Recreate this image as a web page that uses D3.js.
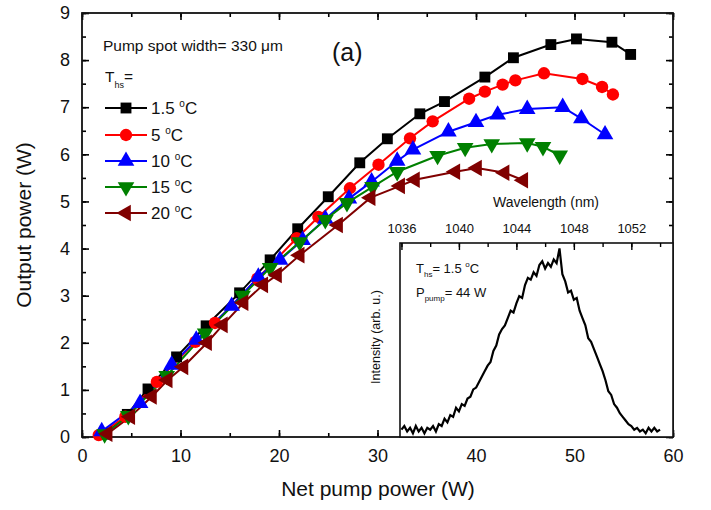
<!doctype html>
<html>
<head>
<meta charset="utf-8">
<title>Output power vs net pump power</title>
<style>
  body { margin: 0; background: #fff; }
  svg text { font-family: "Liberation Sans", Arial, sans-serif; fill: #111; }
</style>
</head>
<body>
<div id="here"></div>
<script src="https://d3js.org/d3.v7.min.js"></script>
<script>
// series: net pump power (W) and output power (W)
var temps = ["1.5", "5", "10", "15", "20"];
var colors = ["#000000", "#ff0000", "#0000ff", "#008000", "#800000"];

var pump15 = [2.4, 4.6, 6.7, 9.6, 12.6, 16.0, 19.1, 21.9, 25.0, 28.2, 31.0, 34.3, 36.8, 40.9, 43.8, 47.6, 50.2, 53.8, 55.7];
var out15  = [0.06, 0.48, 1.02, 1.70, 2.36, 3.06, 3.76, 4.42, 5.10, 5.82, 6.33, 6.86, 7.12, 7.64, 8.05, 8.33, 8.45, 8.38, 8.12];

var pump5 = [1.7, 4.4, 7.6, 11.5, 13.5, 17.8, 21.8, 24.0, 27.2, 30.1, 33.3, 35.6, 39.3, 40.9, 42.7, 44.0, 46.9, 50.8, 52.8, 53.9];
var out5  = [0.04, 0.43, 1.17, 2.02, 2.42, 3.36, 4.22, 4.67, 5.28, 5.78, 6.34, 6.70, 7.18, 7.33, 7.48, 7.57, 7.72, 7.60, 7.43, 7.27];

var pump10 = [2.0, 5.9, 9.1, 11.6, 15.2, 17.9, 20.1, 22.4, 24.7, 27.1, 29.4, 32.0, 33.6, 37.2, 40.0, 42.2, 45.2, 48.8, 50.7, 53.1];
var out10  = [0.12, 0.72, 1.53, 2.06, 2.78, 3.40, 3.76, 4.18, 4.63, 5.06, 5.42, 5.86, 6.10, 6.48, 6.68, 6.84, 6.96, 7.00, 6.76, 6.42];

var pump15c = [2.3, 4.7, 8.6, 12.5, 16.3, 19.1, 22.1, 24.7, 26.9, 29.5, 32.0, 36.1, 38.9, 41.6, 45.2, 46.8, 48.5];
var out15c  = [0.06, 0.45, 1.30, 2.20, 3.00, 3.59, 4.14, 4.61, 4.97, 5.31, 5.63, 5.97, 6.14, 6.22, 6.24, 6.16, 5.98];

var pump20 = [2.6, 4.9, 7.1, 8.7, 10.3, 12.7, 14.3, 16.4, 18.4, 19.8, 22.1, 26.0, 29.3, 32.3, 33.8, 37.9, 40.1, 42.9, 44.8];
var out20  = [0.07, 0.43, 0.86, 1.21, 1.49, 2.00, 2.38, 2.85, 3.23, 3.44, 3.86, 4.50, 5.08, 5.33, 5.46, 5.63, 5.71, 5.61, 5.45];

var pumpSets = [pump15, pump5, pump10, pump15c, pump20];
var outSets = [out15, out5, out10, out15c, out20];

// inset spectrum (T_hs = 1.5 C, P_pump = 44 W)
var specWl = [1036.0, 1036.2, 1036.4, 1036.6, 1036.8, 1037.0, 1037.2, 1037.4, 1037.6, 1037.8,
  1038.0, 1038.2, 1038.4, 1038.6, 1038.8, 1039.0, 1039.2, 1039.4, 1039.6, 1039.8,
  1040.0, 1040.2, 1040.4, 1040.6, 1040.8, 1041.0, 1041.2, 1041.4, 1041.6, 1041.8,
  1042.0, 1042.2, 1042.4, 1042.6, 1042.8, 1043.0, 1043.2, 1043.4, 1043.6, 1043.8,
  1044.0, 1044.2, 1044.4, 1044.6, 1044.8, 1045.0, 1045.2, 1045.4, 1045.6, 1045.8,
  1046.0, 1046.2, 1046.4, 1046.6, 1046.8, 1047.0, 1047.2, 1047.4, 1047.6, 1047.8,
  1048.0, 1048.2, 1048.4, 1048.6, 1048.8, 1049.0, 1049.2, 1049.4, 1049.6, 1049.8,
  1050.0, 1050.2, 1050.4, 1050.6, 1050.8, 1051.0, 1051.2, 1051.4, 1051.6, 1051.8,
  1052.0, 1052.2, 1052.4, 1052.6, 1052.8, 1053.0, 1053.2, 1053.4, 1053.6, 1053.8, 1054.0];
var specI = [0.01, 0.03, 0.00, 0.02, -0.01, 0.03, 0.00, 0.02, -0.01, 0.02,
  0.01, 0.03, 0.00, 0.04, 0.03, 0.07, 0.05, 0.09, 0.08, 0.13,
  0.11, 0.15, 0.14, 0.18, 0.19, 0.23, 0.24, 0.27, 0.30, 0.33,
  0.36, 0.38, 0.44, 0.47, 0.53, 0.56, 0.58, 0.62, 0.66, 0.65,
  0.70, 0.74, 0.73, 0.80, 0.84, 0.83, 0.87, 0.85, 0.91, 0.93,
  0.89, 0.92, 0.90, 0.94, 0.92, 1.00, 0.86, 0.82, 0.76, 0.77,
  0.72, 0.73, 0.66, 0.62, 0.58, 0.51, 0.49, 0.45, 0.41, 0.37,
  0.33, 0.28, 0.22, 0.20, 0.15, 0.13, 0.10, 0.08, 0.06, 0.04,
  0.03, 0.01, 0.02, 0.00, 0.01, -0.01, 0.02, 0.00, 0.02, 0.00, 0.01];

var xTicks = [0, 10, 20, 30, 40, 50, 60];
var yTicks = [0, 1, 2, 3, 4, 5, 6, 7, 8, 9];
var wlTicks = [1036, 1040, 1044, 1048, 1052];

var W = 711, H = 510;
var svg = d3.select("#here").append("svg").attr("width", W).attr("height", H);

var x = d3.scaleLinear().domain([0, 60]).range([82, 673]);
var y = d3.scaleLinear().domain([0, 9]).range([437, 13]);

// main axes, ticks pointing inward on all four sides
var minorX = d3.range(0, 61, 5), minorY = d3.range(0, 9.01, 0.5);
function addAxis(axisFn, scale, tr, major, minor, labels) {
  svg.append("g").attr("transform", tr)
    .call(axisFn(scale).tickValues(minor).tickSizeInner(-4).tickSizeOuter(0).tickFormat(""))
    .call(function(g) { g.select(".domain").remove(); g.selectAll("line").attr("stroke-width", 1.6); });
  var a = svg.append("g").attr("transform", tr)
    .call(axisFn(scale).tickValues(major).tickSizeInner(-7).tickSizeOuter(0).tickPadding(12)
      .tickFormat(labels ? d3.format("d") : ""));
  a.select(".domain").remove();
  a.selectAll("line").attr("stroke-width", 1.6);
  a.selectAll("text").attr("font-size", 18).attr("font-family", "Liberation Sans, Arial, sans-serif").attr("fill", "#111");
  return a;
}
addAxis(d3.axisBottom, x, "translate(0,437)", xTicks, minorX, true);
addAxis(d3.axisTop, x, "translate(0,13)", xTicks, minorX, false);
addAxis(d3.axisLeft, y, "translate(82,0)", yTicks, minorY, true);
addAxis(d3.axisRight, y, "translate(673,0)", yTicks, minorY, false);

svg.append("rect").attr("x", 82).attr("y", 13).attr("width", 591).attr("height", 424)
  .attr("fill", "none").attr("stroke", "#111").attr("stroke-width", 1.8);

svg.append("text").attr("x", 378).attr("y", 496).attr("text-anchor", "middle")
  .attr("font-size", 21).text("Net pump power (W)");
svg.append("text").attr("transform", "translate(31,225) rotate(-90)").attr("text-anchor", "middle")
  .attr("font-size", 21).text("Output power (W)");

// inset: spectrum
var ix = d3.scaleLinear().domain([1035.9, 1054.9]).range([400, 673]);
var iy = d3.scaleLinear().domain([-0.03, 1.03]).range([437, 243]);

svg.append("rect").attr("x", 400).attr("y", 243).attr("width", 273).attr("height", 194)
  .attr("fill", "#fff").attr("stroke", "#111").attr("stroke-width", 1.6);

var wlMinor = d3.range(1036, 1055, 2);
svg.append("g").attr("transform", "translate(0,243)")
  .call(d3.axisTop(ix).tickValues(wlMinor).tickSizeInner(-4).tickSizeOuter(0).tickFormat(""))
  .call(function(g) { g.select(".domain").remove(); g.selectAll("line").attr("stroke-width", 1.4); });
var wa = svg.append("g").attr("transform", "translate(0,243)")
  .call(d3.axisTop(ix).tickValues(wlTicks).tickSizeInner(-7).tickSizeOuter(0).tickPadding(10).tickFormat(d3.format("d")));
wa.select(".domain").remove();
wa.selectAll("line").attr("stroke-width", 1.4);
wa.selectAll("text").attr("font-size", 13).attr("font-family", "Liberation Sans, Arial, sans-serif").attr("fill", "#111");

svg.append("text").attr("x", 546).attr("y", 207).attr("text-anchor", "middle")
  .attr("font-size", 14).text("Wavelength (nm)");
svg.append("text").attr("transform", "translate(380,337) rotate(-90)").attr("text-anchor", "middle")
  .attr("font-size", 12.5).text("Intensity (arb. u.)");

var spec = specWl.map(function(d, i) { return [d, specI[i]]; });
svg.append("path").datum(spec)
  .attr("d", d3.line().x(function(d) { return ix(d[0]); }).y(function(d) { return iy(d[1]); }))
  .attr("fill", "none").attr("stroke", "#000").attr("stroke-width", 2.2);

var t1 = svg.append("text").attr("x", 416).attr("y", 273).attr("font-size", 13);
t1.append("tspan").text("T");
t1.append("tspan").attr("font-size", 8).attr("dy", 4).text("hs");
t1.append("tspan").attr("dy", -4).text("= 1.5 ");
t1.append("tspan").attr("font-size", 8).attr("dy", -6).text("o");
t1.append("tspan").attr("dy", 6).text("C");
var t2 = svg.append("text").attr("x", 416).attr("y", 297).attr("font-size", 13);
t2.append("tspan").text("P");
t2.append("tspan").attr("font-size", 8).attr("dy", 4).text("pump");
t2.append("tspan").attr("dy", -4).text("= 44 W");

// curves and markers
var symbols = [
  { type: d3.symbolSquare, size: 118, rot: 0 },
  { type: d3.symbolCircle, size: 120, rot: 0 },
  { type: d3.symbolTriangle, size: 120, rot: 0 },
  { type: d3.symbolTriangle, size: 120, rot: 180 },
  { type: d3.symbolTriangle, size: 120, rot: -90 }
];
var line = d3.line().x(function(d) { return x(d[0]); }).y(function(d) { return y(d[1]); });

pumpSets.forEach(function(p, k) {
  var pts = p.map(function(d, i) { return [d, outSets[k][i]]; });
  svg.append("path").datum(pts).attr("d", line)
    .attr("fill", "none").attr("stroke", colors[k]).attr("stroke-width", 2);
});
pumpSets.forEach(function(p, k) {
  var pts = p.map(function(d, i) { return [d, outSets[k][i]]; });
  svg.append("g").selectAll("path").data(pts).enter().append("path")
    .attr("d", d3.symbol().type(symbols[k].type).size(symbols[k].size))
    .attr("transform", function(d) { return "translate(" + x(d[0]) + "," + y(d[1]) + ") rotate(" + symbols[k].rot + ")"; })
    .attr("fill", colors[k]);
});

// annotations and legend
svg.append("text").attr("x", 103).attr("y", 51).attr("font-size", 15.5).text("Pump spot width= 330 \u03bcm");
svg.append("text").attr("x", 332).attr("y", 61).attr("font-size", 25).text("(a)");

var th = svg.append("text").attr("x", 105).attr("y", 82).attr("font-size", 15.5);
th.append("tspan").text("T");
th.append("tspan").attr("font-size", 9).attr("dy", 6).text("hs");
th.append("tspan").attr("dy", -6).text("=");

var legY = [108, 135, 161, 187, 213];
temps.forEach(function(t, k) {
  var g = svg.append("g").attr("transform", "translate(0," + legY[k] + ")");
  g.append("line").attr("x1", 105).attr("x2", 147).attr("stroke", colors[k]).attr("stroke-width", 2);
  g.append("path").attr("d", d3.symbol().type(symbols[k].type).size(symbols[k].size))
    .attr("transform", "translate(126,0) rotate(" + symbols[k].rot + ")").attr("fill", colors[k]);
  var tx = g.append("text").attr("x", 151).attr("y", 6).attr("font-size", 17);
  tx.append("tspan").text(t + " ");
  tx.append("tspan").attr("font-size", 10).attr("dy", -7).text("o");
  tx.append("tspan").attr("dy", 7).text("C");
});
</script>
</body>
</html>
